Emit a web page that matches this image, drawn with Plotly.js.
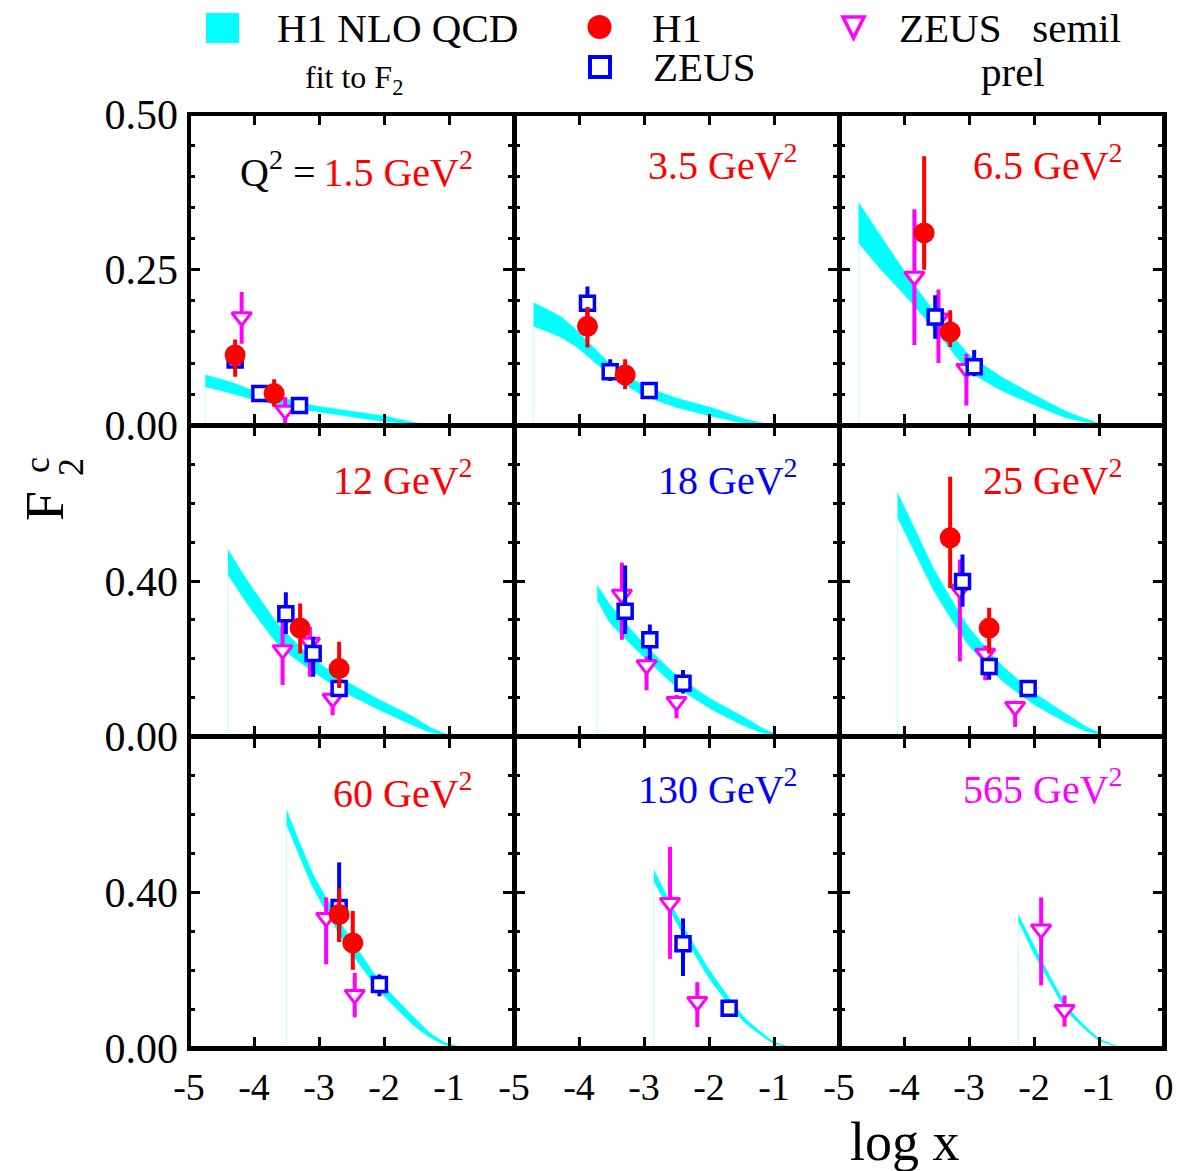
<!DOCTYPE html>
<html><head><meta charset="utf-8">
<script src="https://cdn.plot.ly/plotly-3.0.1.min.js"></script>
<style>html,body{margin:0;padding:0;background:#fff}</style>
</head><body>
<div id="chart" style="width:1198px;height:1171px"></div>
<script>
// ---------------- DATA ----------------
const q2Labels = ['1.5', '3.5', '6.5', '12', '18', '25', '60', '130', '565'];

// H1 NLO QCD fit band (log x, upper edge, lower edge) per panel
const bandX = [
  [-4.75, -4.37, -3.96, -3.60, -3.09, -2.58, -2.06, -1.55, -1.30],
  [-4.70, -4.29, -4.04, -3.52, -3.01, -2.50, -1.98, -1.47, -1.02],
  [-4.70, -4.37, -4.04, -3.52, -3.01, -2.50, -1.98, -1.47, -0.92],
  [-4.40, -4.11, -3.60, -3.09, -2.57, -2.06, -1.55, -1.30, -0.95],
  [-3.72, -3.52, -3.01, -2.50, -1.98, -1.47, -1.20, -0.90],
  [-4.10, -3.78, -3.52, -3.01, -2.50, -1.98, -1.47, -1.20, -0.85],
  [-3.50, -3.09, -2.57, -2.06, -1.55, -1.30, -1.04, -0.73],
  [-2.85, -2.50, -1.98, -1.47, -1.01, -0.70],
  [-2.24, -1.98, -1.47, -1.01, -0.65]
];
const bandHi = [
  [0.081, 0.070, 0.054, 0.045, 0.032, 0.024, 0.016, 0.005, 0.0],
  [0.197, 0.175, 0.153, 0.099, 0.064, 0.044, 0.029, 0.011, 0.0],
  [0.358, 0.306, 0.255, 0.180, 0.115, 0.078, 0.048, 0.021, 0.0],
  [0.481, 0.403, 0.283, 0.201, 0.141, 0.094, 0.051, 0.025, 0.0],
  [0.390, 0.339, 0.240, 0.158, 0.098, 0.051, 0.024, 0.0],
  [0.627, 0.515, 0.425, 0.283, 0.184, 0.111, 0.055, 0.026, 0.0],
  [0.612, 0.446, 0.296, 0.171, 0.081, 0.040, 0.012, 0.0],
  [0.459, 0.343, 0.197, 0.081, 0.017, 0.0],
  [0.343, 0.257, 0.102, 0.026, 0.0]
];
const bandLo = [
  [0.062, 0.052, 0.040, 0.032, 0.023, 0.015, 0.007, 0.002, 0.0],
  [0.159, 0.142, 0.126, 0.081, 0.048, 0.029, 0.015, 0.004, 0.0],
  [0.293, 0.252, 0.215, 0.153, 0.088, 0.056, 0.032, 0.011, 0.0],
  [0.416, 0.343, 0.231, 0.167, 0.111, 0.068, 0.029, 0.012, 0.0],
  [0.352, 0.292, 0.206, 0.128, 0.072, 0.029, 0.011, 0.0],
  [0.563, 0.455, 0.369, 0.236, 0.145, 0.081, 0.034, 0.014, 0.0],
  [0.575, 0.412, 0.261, 0.145, 0.059, 0.028, 0.006, 0.0],
  [0.429, 0.322, 0.175, 0.068, 0.012, 0.0],
  [0.326, 0.236, 0.090, 0.020, 0.0]
];

// H1 points
const h1X  = [[-4.29, -3.69], [-3.87, -3.29], [-3.69, -3.29], [-3.29, -2.69], [], [-3.29, -2.69], [-2.69, -2.48], [], []];
const h1Y  = [[0.113, 0.051], [0.159, 0.081], [0.309, 0.150], [0.279, 0.175], [], [0.511, 0.279], [0.343, 0.270], [], []];
const h1Up = [[0.025, 0.023], [0.031, 0.025], [0.123, 0.035], [0.063, 0.069], [], [0.157, 0.052], [0.067, 0.082], [], []];
const h1Dn = [[0.035, 0.021], [0.034, 0.023], [0.059, 0.024], [0.065, 0.050], [], [0.129, 0.065], [0.071, 0.069], [], []];

// ZEUS points
const zeusX  = [[-4.29, -3.91, -3.30], [-3.87, -3.52, -2.92], [-3.52, -2.92], [-3.51, -3.09, -2.69], [-3.29, -2.91, -2.40], [-3.10, -2.69, -2.09], [-2.69, -2.07], [-2.40, -1.69], []];
const zeusY  = [[0.105, 0.051, 0.032], [0.196, 0.086, 0.056], [0.174, 0.094], [0.316, 0.214, 0.124], [0.322, 0.249, 0.137], [0.399, 0.180, 0.124], [0.361, 0.163], [0.268, 0.102], []];
const zeusUp = [[0.008, 0.008, 0.008], [0.027, 0.020, 0.005], [0.035, 0.027], [0.055, 0.043, 0.010], [0.118, 0.039, 0.034], [0.069, 0.020, 0.008], [0.116, 0.026], [0.065, 0.008], []];
const zeusDn = [[0.008, 0.008, 0.008], [0.020, 0.015, 0.005], [0.035, 0.015], [0.052, 0.060, 0.010], [0.058, 0.052, 0.026], [0.065, 0.034, 0.008], [0.086, 0.030], [0.083, 0.008], []];

// ZEUS semileptonic (prel) points
const semilX  = [[-4.19, -3.52], [], [-3.84, -3.47, -3.04], [-3.56, -3.14, -2.79], [-3.34, -2.96, -2.50], [-3.14, -2.75, -2.29], [-2.89, -2.45], [-2.60, -2.18], [-1.89, -1.53]];
const semilY  = [[0.174, 0.024], [], [0.239, 0.172, 0.091], [0.223, 0.242, 0.098], [0.365, 0.184, 0.090], [0.378, 0.214, 0.077], [0.335, 0.137], [0.373, 0.119], [0.305, 0.098]];
const semilUp = [[0.040, 0.021], [], [0.108, 0.046, 0.024], [0.096, 0.040, 0.020], [0.082, 0.022, 0.017], [0.077, 0.020, 0.015], [0.052, 0.056], [0.144, 0.050], [0.082, 0.037]];
const semilDn = [[0.043, 0.024], [], [0.110, 0.072, 0.059], [0.090, 0.088, 0.043], [0.116, 0.065, 0.043], [0.185, 0.069, 0.052], [0.120, 0.058], [0.144, 0.065], [0.144, 0.043]];

// Tick labels
const xTickVals = [-5, -4, -3, -2, -1, 0];
const xTickText = ['-5', '-4', '-3', '-2', '-1', '0'];
const yTopVals = [0, 0.25, 0.5];
const yTopText = ['0.00', '0.25', '0.50'];
const yLowVals = [0, 0.4, 0.8];
const yLowText = ['0.00', '0.40', ''];

// ---------------- STYLE ----------------
const FONT = 'Liberation Serif, Times New Roman, serif';
const RED = '#ff0000', BLUE = '#0000ff', MAG = '#ff00ff', CYAN = '#00ffff';
const labelColor = [RED, RED, RED, RED, BLUE, RED, RED, BLUE, MAG];
const labelY = [0.411, 0.422, 0.422, 0.666, 0.666, 0.666, 0.661, 0.671, 0.671];

// pixel -> paper helpers (plot area 189..1164 x, 114..1048 y)
const L = 189, R = 34, T = 114, B = 123, W = 1198, H = 1171;
const pw = W - L - R, ph = H - T - B;
const PX = p => (p - L) / pw;
const PY = p => (H - B - p) / ph;

const traces = [];
const layout = {
  width: W, height: H,
  margin: {l: L, r: R, t: T, b: B, pad: 0},
  paper_bgcolor: '#fff', plot_bgcolor: 'rgba(0,0,0,0)',
  showlegend: false,
  font: {family: FONT, color: '#000'},
  annotations: [], shapes: []
};

for (let i = 0; i < 9; i++) {
  const col = i % 3, row = Math.floor(i / 3);
  const sfx = i === 0 ? '' : String(i + 1);
  const xa = 'x' + sfx, ya = 'y' + sfx;

  const bx = bandX[i], hi = bandHi[i], lo = bandLo[i];
  traces.push({
    type: 'scatter', mode: 'lines', xaxis: xa, yaxis: ya, hoverinfo: 'skip',
    x: bx.concat(bx.slice().reverse()), y: hi.concat(lo.slice().reverse()),
    fill: 'toself', fillcolor: CYAN, line: {color: CYAN, width: 0.5, shape: 'spline', smoothing: 0.5}
  });
  traces.push({
    type: 'scatter', mode: 'lines', xaxis: xa, yaxis: ya, hoverinfo: 'skip',
    x: [bx[0], bx[0]], y: [0, lo[0]], line: {color: 'rgba(0,255,255,0.22)', width: 1.2}
  });
  if (semilX[i].length) traces.push({
    type: 'scatter', mode: 'markers', xaxis: xa, yaxis: ya, name: 'ZEUS semil prel',
    x: semilX[i], y: semilY[i],
    marker: {symbol: 'triangle-down', size: 17, color: '#fff', line: {color: MAG, width: 3}},
    error_y: {type: 'data', symmetric: false, array: semilUp[i], arrayminus: semilDn[i], color: MAG, thickness: 4, width: 0}
  });
  if (zeusX[i].length) traces.push({
    type: 'scatter', mode: 'markers', xaxis: xa, yaxis: ya, name: 'ZEUS',
    x: zeusX[i], y: zeusY[i],
    marker: {symbol: 'square', size: 14, color: '#fff', line: {color: BLUE, width: 3.5}},
    error_y: {type: 'data', symmetric: false, array: zeusUp[i], arrayminus: zeusDn[i], color: BLUE, thickness: 4, width: 0}
  });
  if (h1X[i].length) traces.push({
    type: 'scatter', mode: 'markers', xaxis: xa, yaxis: ya, name: 'H1',
    x: h1X[i], y: h1Y[i],
    marker: {symbol: 'circle', size: 21, color: RED, line: {width: 0}},
    error_y: {type: 'data', symmetric: false, array: h1Up[i], arrayminus: h1Dn[i], color: RED, thickness: 4, width: 0}
  });

  const xText = xTickText.map((t, k) => (col === 2 || k < 5) ? t : '');
  layout['xaxis' + sfx] = {
    domain: [col / 3, (col + 1) / 3], range: [-5, 0], anchor: ya,
    tickmode: 'array', tickvals: xTickVals, ticktext: xText,
    showticklabels: row === 2, ticks: 'inside', ticklen: 11, tickwidth: 3, tickcolor: '#000',
    minor: {ticks: '', showgrid: false},
    mirror: 'ticks', showline: true, linewidth: 2.5, linecolor: '#000',
    showgrid: false, zeroline: false, fixedrange: true,
    tickfont: {family: FONT, size: 38, color: '#000'}, ticklabelstandoff: 4
  };
  layout['yaxis' + sfx] = {
    domain: [1 - (row + 1) / 3, 1 - row / 3], range: row === 0 ? [0, 0.5] : [0, 0.8], anchor: xa,
    tickmode: 'array', tickvals: row === 0 ? yTopVals : yLowVals, ticktext: row === 0 ? yTopText : yLowText,
    showticklabels: col === 0, ticks: 'inside', ticklen: 11, tickwidth: 3, tickcolor: '#000',
    minor: {dtick: row === 0 ? 0.05 : 0.1, tick0: 0, ticks: 'inside', ticklen: 6, tickwidth: 3, tickcolor: '#000', showgrid: false},
    mirror: 'ticks', showline: true, linewidth: 2.5, linecolor: '#000',
    showgrid: false, zeroline: false, fixedrange: true,
    tickfont: {family: FONT, size: 42, color: '#000'}, ticklabelstandoff: 0
  };

  const lbl = q2Labels[i] + ' GeV<sup>2</sup>';
  layout.annotations.push({
    xref: xa, yref: ya, x: -0.6, y: labelY[i], xanchor: 'right', yanchor: 'middle', showarrow: false,
    text: i === 0 ? 'Q<sup>2</sup>\u00a0=\u2009<span style="color:' + RED + '">' + lbl + '</span>' : lbl,
    font: {family: FONT, size: 40, color: i === 0 ? '#000' : labelColor[i]}
  });
}

// outer frame
layout.shapes.push({type: 'rect', xref: 'paper', yref: 'paper', x0: 0, x1: 1, y0: 0, y1: 1, line: {color: '#000', width: 4}, fillcolor: 'rgba(0,0,0,0)', layer: 'above'});

// axis titles
layout.annotations.push({
  xref: 'paper', yref: 'paper', x: PX(905), y: PY(1142), xanchor: 'center', yanchor: 'middle', showarrow: false,
  text: 'log x', font: {family: FONT, size: 54, color: '#000'}
});
layout.annotations.push({
  xref: 'paper', yref: 'paper', x: PX(45), y: PY(506), xanchor: 'center', yanchor: 'middle', showarrow: false,
  text: 'F', textangle: -90, font: {family: FONT, size: 54, color: '#000'}
});
layout.annotations.push({
  xref: 'paper', yref: 'paper', x: PX(71), y: PY(467), xanchor: 'center', yanchor: 'middle', showarrow: false,
  text: '2', textangle: -90, font: {family: FONT, size: 36, color: '#000'}
});
layout.annotations.push({
  xref: 'paper', yref: 'paper', x: PX(37), y: PY(465), xanchor: 'center', yanchor: 'middle', showarrow: false,
  text: 'c', textangle: -90, font: {family: FONT, size: 36, color: '#000'}
});

// legend (drawn as keys + text)
const legTxt = [
  ['H1 NLO QCD', 275, 28, 41],
  ['fit to F<sub>2</sub>', 303, 80, 32],
  ['H1', 650, 28, 41],
  ['ZEUS', 651, 67, 41],
  ['ZEUS\u00a0\u00a0\u00a0semil', 897, 28, 41],
  ['prel', 979, 72, 41]
];
legTxt.forEach(([t, x, y, s]) => layout.annotations.push({
  xref: 'paper', yref: 'paper', x: PX(x), y: PY(y), xanchor: 'left', yanchor: 'middle', showarrow: false,
  text: t, font: {family: FONT, size: s, color: '#000'}
}));
layout.shapes.push({type: 'rect', xref: 'paper', yref: 'paper', x0: PX(206), x1: PX(239), y0: PY(43), y1: PY(13), fillcolor: CYAN, line: {width: 0}});
layout.shapes.push({type: 'circle', xref: 'paper', yref: 'paper', x0: PX(587.5), x1: PX(611.5), y0: PY(39), y1: PY(15), fillcolor: RED, line: {width: 0}});
layout.shapes.push({type: 'rect', xref: 'paper', yref: 'paper', x0: PX(590), x1: PX(610), y0: PY(77), y1: PY(57), fillcolor: '#fff', line: {color: BLUE, width: 4}});
const tx = [PX(843), PX(864), PX(853.5)], ty = [PY(17), PY(38)];
layout.shapes.push({type: 'path', xref: 'paper', yref: 'paper',
  path: `M ${tx[0]} ${ty[0]} L ${tx[1]} ${ty[0]} L ${tx[2]} ${ty[1]} Z`, fillcolor: '#fff', line: {color: MAG, width: 3.5}});

Plotly.newPlot('chart', traces, layout, {displayModeBar: false, staticPlot: true});
</script>
</body></html>
